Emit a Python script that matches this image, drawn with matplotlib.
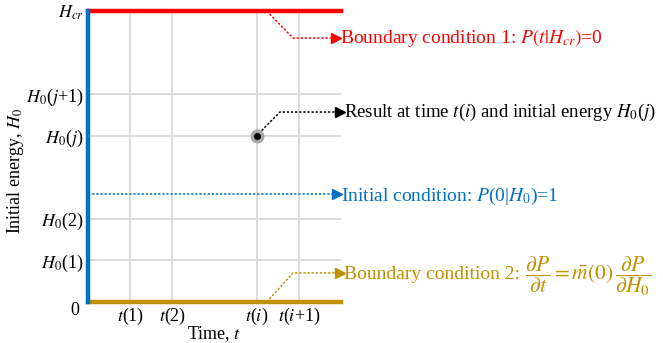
import matplotlib.pyplot as plt

plt.rcParams['font.family'] = ['Liberation Serif', 'DejaVu Serif']
plt.rcParams['mathtext.fontset'] = 'stix'
plt.rcParams['font.size'] = 13

# grid of the scheme
t_grid = [1, 2, 4, 5]
t_labels = ['$t$(1)', '$t$(2)', '$t$($i$)', '$t$($i$+1)']
h_grid = [1, 2, 4, 5]
h_labels = ['$H_0$(1)', '$H_0$(2)', '$H_0$($j$)', '$H_0$($j$+1)']
t_max = 6
h_cr = 7
h_init = 2.6
t_i, h_j = 4, 4

# callout paths (start, bend, tip)
red_path_t = [4.24, 4.86, 5.87]
red_path_h = [7, 6.35, 6.35]
black_path_t = [4.05, 4.55, 5.98]
black_path_h = [4.05, 4.57, 4.57]
blue_path_t = [0, 5.9]
blue_path_h = [h_init, h_init]
gold_path_t = [4.24, 4.86, 5.98]
gold_path_h = [0, 0.7, 0.7]

red = '#FF0000'
blue = '#0070C0'
gold = '#BF9000'
grey = '#D9D9D9'

fig = plt.figure(figsize=(6.63, 3.43), dpi=100)
ax = fig.add_axes([88 / 663, 1 - 302 / 343, 253 / 663, 291 / 343])
ax.set_xlim(0, t_max)
ax.set_ylim(0, h_cr)

for t in t_grid:
    ax.axvline(t, color=grey, lw=1.3, zorder=1)
for h in h_grid:
    ax.axhline(h, color=grey, lw=1.3, zorder=1)

ax.plot([0, t_max], [h_cr, h_cr], color=red, lw=3.2, clip_on=False, zorder=3)
ax.plot([0, t_max], [0, 0], color=gold, lw=3.2, clip_on=False, zorder=3)
ax.plot([0, 0], [0, h_cr], color=blue, lw=3.2, clip_on=False, zorder=4)

for pt, ph, c in [(red_path_t, red_path_h, red),
                  (black_path_t, black_path_h, 'black'),
                  (blue_path_t, blue_path_h, blue),
                  (gold_path_t, gold_path_h, gold)]:
    ax.plot(pt, ph, color=c, lw=1.1, ls=(0, (1.5, 1.2)), clip_on=False, zorder=5)
    ax.plot(pt[-1], ph[-1], marker='>', ms=7, color=c, clip_on=False, zorder=5)

ax.plot(t_i, h_j, 'o', ms=9, color='#A6A6A6', zorder=6)
ax.plot(t_i, h_j, 'o', ms=4, color='black', zorder=7)

ax.text(5.97, 6.35, 'Boundary condition 1: $P(t|H_{cr})$=0', color=red,
        va='center', ha='left', fontsize=14, clip_on=False)
ax.text(6.08, 4.57, 'Result at time $t$($i$) and initial energy $H_0$($j$)',
        color='black', va='center', ha='left', fontsize=13.5, clip_on=False)
ax.text(6.0, 2.55, 'Initial condition: $P$(0|$H_0$)=1', color=blue,
        va='center', ha='left', fontsize=14, clip_on=False)
bc2 = ax.text(6.08, 0.7, 'Boundary condition 2:', color=gold,
              va='center_baseline', ha='left', fontsize=14, clip_on=False)
ax.annotate(r'$\dfrac{\partial P}{\partial t}=\bar{m}(0)\,\dfrac{\partial P}{\partial H_0}$',
            xy=(1, 0.4), xycoords=bc2, xytext=(3, 0), textcoords='offset points',
            color=gold, va='center', ha='left', fontsize=15.5, annotation_clip=False)

ax.set_xticks(t_grid)
ax.set_xticklabels(t_labels)
ax.set_yticks(h_grid + [h_cr])
ax.set_yticklabels(h_labels + ['$H_{cr}$'])
ax.tick_params(length=0, pad=3)
ax.text(-0.2, -0.2, '0', ha='right', va='center', clip_on=False)
for s in ax.spines.values():
    s.set_visible(False)

ax.set_xlabel('Time, $t$', labelpad=-2)
ax.set_ylabel('Initial energy, $H_0$', fontsize=13)
ax.yaxis.set_label_coords(-0.245, 0.45)

fig.savefig('out.png', dpi=100)
